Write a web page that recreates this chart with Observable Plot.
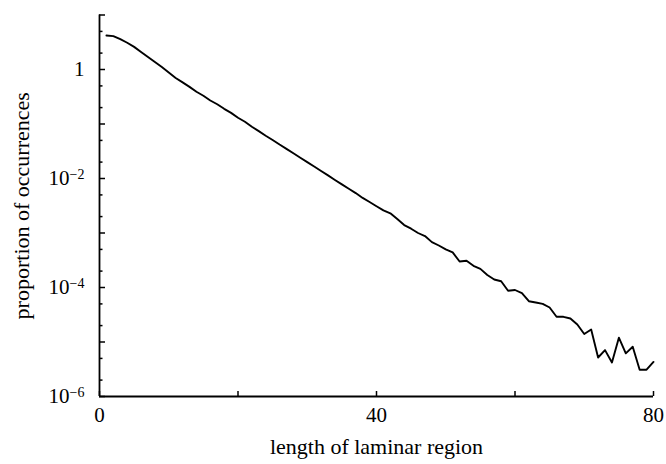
<!DOCTYPE html>
<html>
<head>
<meta charset="utf-8">
<script src="https://cdn.jsdelivr.net/npm/d3@7"></script>
<script src="https://cdn.jsdelivr.net/npm/@observablehq/plot@0.6"></script>
<style>
  html, body { margin: 0; padding: 0; background: #fff; }
  svg { display: block; }
</style>
</head>
<body>
<div id="chart"></div>
<script>
// laminar region length (x) and proportion of occurrences (y)
const lengths = [
  1, 2, 3, 4, 5, 6, 7, 8, 9, 10,
  11, 12, 13, 14, 15, 16, 17, 18, 19, 20,
  21, 22, 23, 24, 25, 26, 27, 28, 29, 30,
  31, 32, 33, 34, 35, 36, 37, 38, 39, 40,
  41, 42, 43, 44, 45, 46, 47, 48, 49, 50,
  51, 52, 53, 54, 55, 56, 57, 58, 59, 60,
  61, 62, 63, 64, 65, 66, 67, 68, 69, 70,
  71, 72, 73, 74, 75, 76, 77, 78, 79, 80
];
const proportions = [
  4.2, 4.1, 3.6, 3.1, 2.6, 2.1, 1.7, 1.37, 1.11, 0.88,
  0.70, 0.58, 0.48, 0.39, 0.33, 0.27, 0.23, 0.19, 0.16, 0.13,
  0.11, 0.089, 0.074, 0.061, 0.051, 0.042, 0.035, 0.029, 0.024, 0.020,
  0.0166, 0.0137, 0.0114, 0.0094, 0.0078, 0.0065, 0.0054, 0.0044, 0.0037, 0.0031,
  0.0026, 0.0023, 0.0018, 0.0014, 0.0012, 0.0010, 0.00088, 0.00068, 0.00059, 0.00050,
  0.00044, 0.00030, 0.00031, 0.00025, 0.00022, 0.00017, 0.00014, 0.00013, 8.7e-5, 9.0e-5,
  7.9e-5, 5.6e-5, 5.3e-5, 5.0e-5, 4.3e-5, 2.9e-5, 2.9e-5, 2.7e-5, 2.1e-5, 1.4e-5,
  1.7e-5, 5.2e-6, 7.1e-6, 4.2e-6, 1.2e-5, 6.2e-6, 8.2e-6, 3.1e-6, 3.1e-6, 4.3e-6
];

// axes
const yMajorTicks = [1e-6, 1e-5, 1e-4, 1e-3, 1e-2, 1e-1, 1, 10];
const yMinorTicks = [2e-6, 5e-6, 2e-5, 5e-5, 2e-4, 5e-4, 2e-3, 5e-3, 2e-2, 5e-2, 2e-1, 5e-1, 2, 5];
const yLabelTicks = [1e-6, 1e-4, 1e-2, 1];
const xTicks = [0, 20, 40, 60, 80];
const xLabelTicks = [0, 40, 80];
const xTitle = "length of laminar region";
const yTitle = "proportion of occurrences";

const data = lengths.map((x, i) => ({x, y: proportions[i]}));

const fmtY = d => {
  const e = Math.round(Math.log10(d));
  return e === 0 ? "1" : "10^" + (e < 0 ? "\u2212" + (-e) : String(e));
};

const plot = Plot.plot({
  width: 666,
  height: 464,
  marginLeft: 99,
  marginRight: 13,
  marginTop: 14.5,
  marginBottom: 68,
  style: {fontFamily: "'Liberation Serif', 'Times New Roman', serif", fontSize: "21px", color: "#000", background: "#fff"},
  x: {domain: [0, 80], label: null},
  y: {type: "log", domain: [1e-6, 10], label: null},
  marks: [
    Plot.ruleX([0], {stroke: "#000", strokeWidth: 1.8}),
    Plot.ruleY([1e-6], {stroke: "#000", strokeWidth: 1.8}),
    Plot.axisY({ticks: yMajorTicks, tickSize: 6, dx: 6, tickFormat: () => "", label: null, strokeWidth: 1.5}),
    Plot.axisY({ticks: yMinorTicks, tickSize: 3.5, dx: 3.5, tickFormat: () => "", label: null, strokeWidth: 1.5}),
    Plot.axisY({ticks: yLabelTicks, tickSize: 0, tickPadding: 15, tickFormat: fmtY, label: null, fontSize: 21}),
    Plot.axisX({ticks: xTicks, tickSize: 5, dy: -5, tickFormat: () => "", label: null, strokeWidth: 1.5}),
    Plot.axisX({ticks: xLabelTicks, tickSize: 0, tickPadding: 11, label: null, fontSize: 21}),
    Plot.line(data, {x: "x", y: "y", stroke: "#000", strokeWidth: 1.9}),
    Plot.text([xTitle], {text: d => d, frameAnchor: "bottom", textAnchor: "middle", lineAnchor: "middle", dy: 50, fontSize: 22}),
    Plot.text([yTitle], {text: d => d, frameAnchor: "left", textAnchor: "middle", lineAnchor: "middle", dx: -78, rotate: -90, fontSize: 22})
  ]
});

// superscripts for exponent labels
d3.select(plot).selectAll("text").each(function() {
  const t = this.textContent;
  if (t.includes("^")) {
    const [base, exp] = t.split("^");
    const sel = d3.select(this);
    sel.text(null);
    sel.append("tspan").text(base);
    sel.append("tspan").attr("dy", "-6").attr("font-size", "14px").text(exp);
  }
});

document.getElementById("chart").appendChild(plot);
</script>
</body>
</html>
